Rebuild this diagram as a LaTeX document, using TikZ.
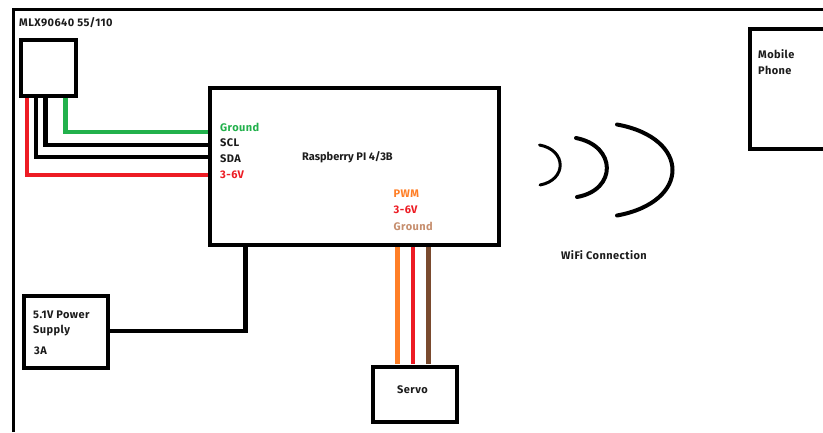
\documentclass[tikz,border=0pt]{standalone}
\usepackage{fontspec}
\setmainfont[LetterSpace=4]{Fira Sans}
\newfontfamily\tightfont{Fira Sans}
\definecolor{wgreen}{HTML}{22B14C}
\definecolor{wred}{HTML}{ED1C24}
\definecolor{worange}{HTML}{FF7F27}
\definecolor{wbrown}{HTML}{7A4A2E}
\definecolor{tbrown}{HTML}{C68E6E}
\definecolor{ink}{HTML}{1C1C1C}
\tikzset{
  box/.style={draw=black,line width=4.4pt,fill=white,inner sep=0pt,outer sep=0pt},
  wire/.style={line width=4.4pt,line join=miter},
  lbl/.style={anchor=west,inner sep=0pt,font=\fontsize{11}{13}\selectfont\bfseries,text=ink},
  wave/.style={draw=black,line cap=round,fill=none},
}
\begin{document}
\begin{tikzpicture}[x=1pt,y=-1pt]
\useasboundingbox (0,0) rectangle (823,432);
\fill[white] (0,0) rectangle (823,432);
\coordinate (fa) at (13,432);
\coordinate (fb) at (13,9.5);
\coordinate (fc) at (823,9.5);
\draw[line width=3pt] (fa) -- (fb) -- (fc);
% boxes
\node[box,minimum width=55pt,minimum height=56pt] (sensor) at (48.5,68) {};
\node[box,minimum width=289pt,minimum height=157pt] (pi) at (354.5,166.5) {};
\node[box,minimum width=84pt,minimum height=72pt] (psu) at (66,332) {};
\node[box,minimum width=84pt,minimum height=55pt] (servo) at (415,394.5) {};
% phone (cut by right edge)
\coordinate (pa) at (823,29);
\coordinate (pb) at (750,29);
\coordinate (pc) at (750,149);
\coordinate (pd) at (823,149);
\draw[line width=4.4pt] (pa) -- (pb) -- (pc) -- (pd);
% wire ends
\coordinate (sg) at (65.5,98);  \coordinate (pg) at (208,132);
\coordinate (s2) at (45.5,98);  \coordinate (p2) at (208,145);
\coordinate (s3) at (36,98);    \coordinate (p3) at (208,157);
\coordinate (s4) at (27,98);    \coordinate (p4) at (208,175);
\draw[wire,wgreen] (sg) |- (pg);
\draw[wire,black] (s2) |- (p2);
\draw[wire,black] (s3) |- (p3);
\draw[wire,wred] (s4) |- (p4);
\coordinate (q0) at (245.5,247);
\coordinate (q1) at (110,331);
\draw[wire,black] (q1) -| (q0);
\coordinate (o1) at (397.5,247); \coordinate (o2) at (397.5,364);
\coordinate (r1) at (412.7,247); \coordinate (r2) at (412.7,364);
\coordinate (b1) at (428.3,247); \coordinate (b2) at (428.3,364);
\draw[wire,worange] (o1) -- (o2);
\draw[wire,wred] (r1) -- (r2);
\draw[wire,wbrown] (b1) -- (b2);
% waves
\draw[wave,line width=3pt] (539.5,145) .. controls (567,150) and (567,180) .. (540,185);
\draw[wave,line width=4pt] (576,138) .. controls (617,146) and (617,190) .. (577,197);
\draw[wave,line width=4pt] (617,124.5) .. controls (691,138) and (691,202) .. (617,215.5);
% labels
\node[lbl] (t1) at (19,23) {MLX90640 55/110};
\node[lbl,text=wgreen] (t2) at (220,127) {Ground};
\node[lbl] (t3) at (220,143) {SCL};
\node[lbl] (t4) at (220,159) {SDA};
\node[lbl,text=wred] (t5) at (220,175) {3-6V};
\node[lbl,font=\fontsize{11}{13}\selectfont\tightfont\bfseries] (t6) at (302,157) {Raspberry PI 4/3B};
\node[lbl,text=worange] (t7) at (393.5,193.5) {PWM};
\node[lbl,text=wred] (t8) at (393.5,210) {3-6V};
\node[lbl,text=tbrown] (t9) at (393.5,226.5) {Ground};
\node[lbl] (t10) at (561,255) {WiFi Connection};
\node[lbl] (t11) at (33,314.5) {5.1V Power};
\node[lbl] (t12) at (33,331) {Supply};
\node[lbl] (t13) at (34,351) {3A};
\node[lbl] (t14) at (397,389.5) {Servo};
\node[lbl] (t15) at (758,54) {Mobile};
\node[lbl] (t16) at (758,70) {Phone};
\end{tikzpicture}
\end{document}
